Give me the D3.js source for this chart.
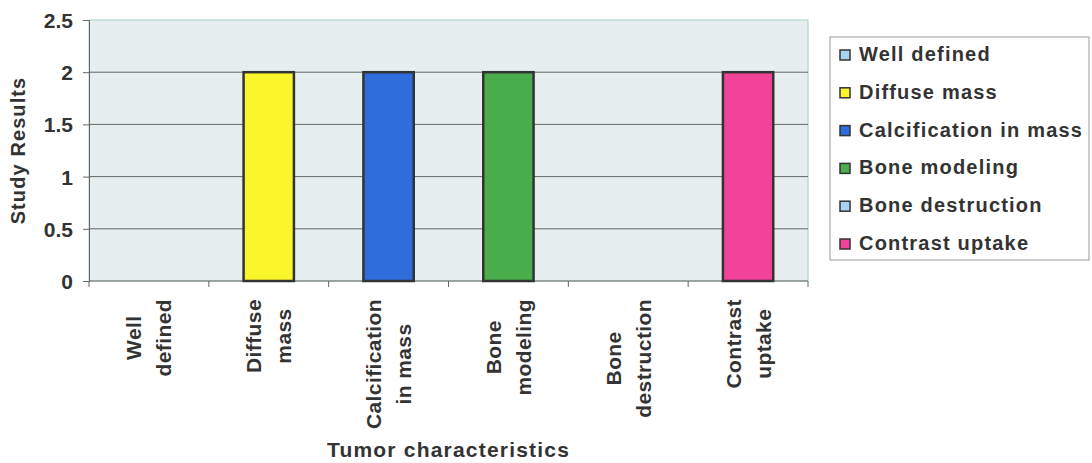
<!DOCTYPE html>
<html>
<head>
<meta charset="utf-8">
<script src="https://cdn.jsdelivr.net/npm/d3@7"></script>
<style>
  html, body { margin: 0; padding: 0; background: #ffffff; }
  svg { display: block; font-family: "Liberation Sans", Arial, sans-serif; }
</style>
</head>
<body>
<svg id="chart" width="1092" height="463"></svg>
<script>
// Tumor characteristics and their study results
const categories = ["Well defined", "Diffuse mass", "Calcification in mass", "Bone modeling", "Bone destruction", "Contrast uptake"];
const categoryLines = [["Well", "defined"], ["Diffuse", "mass"], ["Calcification", "in mass"], ["Bone", "modeling"], ["Bone", "destruction"], ["Contrast", "uptake"]];
const values = [0, 2, 2, 2, 0, 2];
const colors = ["#a9d3f2", "#fbf52c", "#2f6cdc", "#48ad4a", "#a9d3f2", "#f2429a"];
const yTicks = [0, 0.5, 1, 1.5, 2, 2.5];
const yTitle = "Study Results";
const xTitle = "Tumor characteristics";

const svg = d3.select("#chart");
const plot = { left: 89, right: 808, top: 20, bottom: 281 };
const textColor = "#333333";

const x = d3.scaleBand()
  .domain(categories)
  .range([plot.left, plot.right])
  .paddingInner(0.58)
  .paddingOuter(0.29);
const step = x.step();

const y = d3.scaleLinear().domain([0, 2.5]).range([plot.bottom, plot.top]);

// plot area background
svg.append("rect")
  .attr("x", plot.left).attr("y", plot.top)
  .attr("width", plot.right - plot.left).attr("height", plot.bottom - plot.top)
  .attr("fill", "#e6eef0")
  .attr("stroke", "#a6cfc6").attr("stroke-width", 1);

// horizontal gridlines
svg.append("g")
  .selectAll("line")
  .data(yTicks.filter(d => d > 0 && d < 2.5))
  .join("line")
  .attr("x1", plot.left).attr("x2", plot.right)
  .attr("y1", d => y(d)).attr("y2", d => y(d))
  .attr("stroke", "#666666").attr("stroke-width", 1);

// y axis
const yAxis = svg.append("g")
  .attr("transform", `translate(${plot.left},0)`)
  .call(d3.axisLeft(y).tickValues(yTicks).tickSize(6).tickPadding(10).tickFormat(d3.format("")));
yAxis.select(".domain").attr("stroke", "#666666");
yAxis.selectAll(".tick line").attr("stroke", "#666666");
yAxis.selectAll(".tick text")
  .attr("fill", textColor)
  .style("font-size", "21px").style("font-weight", "bold")
  .attr("dy", "0.36em");

// x axis with tick marks at category boundaries
const xAxisG = svg.append("g").attr("transform", `translate(0,${plot.bottom})`);
xAxisG.append("line")
  .attr("x1", plot.left).attr("x2", plot.right)
  .attr("stroke", "#666666");
const boundaries = categories.map(c => x(c) - x.paddingInner() * step / 2);
boundaries.push(plot.right);
xAxisG.selectAll("line.tk")
  .data(boundaries)
  .join("line")
  .attr("class", "tk")
  .attr("x1", d => d).attr("x2", d => d)
  .attr("y1", 0).attr("y2", 6)
  .attr("stroke", "#666666");

// bars
svg.append("g")
  .selectAll("rect")
  .data(categories.map((c, i) => ({ c, v: values[i], col: colors[i] })).filter(d => d.v > 0))
  .join("rect")
  .attr("x", d => x(d.c))
  .attr("y", d => y(d.v))
  .attr("width", x.bandwidth())
  .attr("height", d => y(0) - y(d.v))
  .attr("fill", d => d.col)
  .attr("stroke", "#333333").attr("stroke-width", 2.5);

// rotated category labels, block aligned near the axis
const labelTop = 299;
const lineGap = 30;
categories.forEach((c, i) => {
  const cx = x(c) + x.bandwidth() / 2;
  const g = svg.append("g");
  const lines = categoryLines[i];
  const texts = lines.map((ln, j) => g.append("text")
    .text(ln)
    .attr("fill", textColor)
    .style("font-size", "21px").style("font-weight", "bold")
    .style("letter-spacing", "0.4px")
    .attr("text-anchor", "middle")
    .attr("x", 0)
    .attr("y", (j - (lines.length - 1) / 2) * lineGap + 7.5));
  const maxLen = d3.max(texts, t => t.node().getComputedTextLength());
  g.attr("transform", `translate(${cx},${labelTop + maxLen / 2}) rotate(-90)`);
});

// axis titles
svg.append("text")
  .attr("transform", `translate(${(plot.left + plot.right) / 2},457)`)
  .attr("text-anchor", "middle")
  .attr("fill", textColor)
  .style("font-size", "21px").style("font-weight", "bold")
  .style("letter-spacing", "1.2px")
  .text(xTitle);

svg.append("text")
  .attr("transform", `translate(25,${(plot.top + plot.bottom) / 2}) rotate(-90)`)
  .attr("text-anchor", "middle")
  .attr("fill", textColor)
  .style("font-size", "20px").style("font-weight", "bold")
  .style("letter-spacing", "1.1px")
  .text(yTitle);

// legend
const legend = svg.append("g");
legend.append("rect")
  .attr("x", 830).attr("y", 37)
  .attr("width", 259).attr("height", 223)
  .attr("fill", "#ffffff")
  .attr("stroke", "#9a9a9a").attr("stroke-width", 1);
const rowY = d3.scaleLinear().domain([0, categories.length - 1]).range([61, 250]);
const items = legend.selectAll("g.item")
  .data(categories.map((c, i) => ({ c, col: colors[i], i })))
  .join("g")
  .attr("class", "item")
  .attr("transform", d => `translate(0,${rowY(d.i)})`);
items.append("rect")
  .attr("x", 840).attr("y", -11)
  .attr("width", 10).attr("height", 10)
  .attr("fill", d => d.col)
  .attr("stroke", "#333333").attr("stroke-width", 1.5);
items.append("text")
  .attr("x", 859).attr("y", 0)
  .attr("fill", textColor)
  .style("font-size", "20px").style("font-weight", "bold")
  .style("letter-spacing", "1.2px")
  .text(d => d.c);
</script>
</body>
</html>
